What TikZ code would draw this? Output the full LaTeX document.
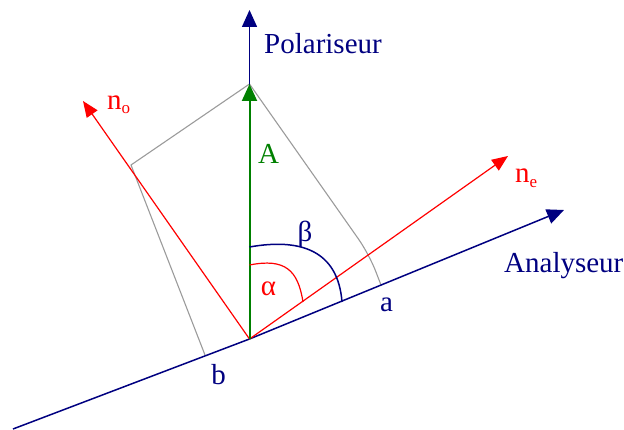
\documentclass[tikz,border=0pt]{standalone}
\usepackage{fontspec}
\setmainfont{Liberation Serif}
\newfontfamily\timesf{Liberation Serif}
\usetikzlibrary{arrows.meta}
\definecolor{navyc}{RGB}{0,0,128}
\definecolor{greenc}{RGB}{0,128,0}
\definecolor{grayc}{RGB}{155,155,155}
\tikzset{
  lbl/.style={inner sep=0pt, font=\timesf\fontsize{29}{31}\selectfont},
  axisline/.style={draw=navyc, line width=1.5pt, -{Triangle[length=17pt,width=15pt]}},
  redline/.style={draw=red, line width=1.2pt},
  redarrow/.style={redline, -{Triangle[length=16pt,width=13pt]}},
  greenarrow/.style={draw=greenc, line width=2pt, -{Triangle[length=17pt,width=15pt]}},
  proj/.style={draw=grayc, line width=1.1pt},
}
\newcommand{\subtxt}[1]{\raisebox{-0.14em}{\timesf\fontsize{17}{17}\selectfont #1}}
\begin{document}
\begin{tikzpicture}[x=1pt,y=-1pt]
\useasboundingbox (0,0) rectangle (624,430);
% points
\coordinate (O) at (249.5,339);
\coordinate (PolTip) at (249.5,10);
\coordinate (ATip) at (249.5,84);
\coordinate (NoTip) at (83,101);
\coordinate (NeTip) at (508,156);
\coordinate (AnStart) at (13,429);
\coordinate (AnTip) at (564,210);
\coordinate (Po) at (131,165);
\coordinate (Pe) at (369,254);
\coordinate (Fa) at (381,285);
\coordinate (Fb) at (205,355);
% projections
\draw[proj] (ATip) -- (Po) -- (Fb);
\draw[proj, rounded corners=18pt] (ATip) -- (Pe) -- (Fa);
% axes
\draw[axisline] (O) -- (PolTip);
\draw[draw=navyc, line width=1.5pt] (AnStart) -- (O);
\draw[axisline] (O) -- (AnTip);
% crystal axes
\draw[redarrow] (O) -- (NoTip);
\draw[redarrow] (O) -- (NeTip);
% amplitude
\draw[greenarrow] (O) -- (ATip);
% angles
\draw[red, line width=1.2pt] (249.5,265) .. controls (285,258) and (298,270) .. (303,302);
\draw[navyc, line width=1.5pt] (249.5,247) .. controls (300,238) and (338,250) .. (342,302);
% labels
\node[lbl, text=navyc, anchor=base west] (polarisor) at (264,54) {Polariseur};
\node[lbl, text=navyc, anchor=base west] (analyser) at (504,273) {Analyseur};
\node[lbl, text=greenc, anchor=base west] (alabel) at (258,164) {A};
\node[lbl, text=red, anchor=base west] (nolabel) at (107,109.5) {n\subtxt{o}};
\node[lbl, text=red, anchor=base west] (nelabel) at (515,183) {n\subtxt{e}};
\node[lbl, text=navyc] (alabelA) at (386.5,304.5) {a};
\node[lbl, text=navyc] (blabel) at (218.5,375) {b};
\node[lbl, text=red] (alpha) at (268.5,288.5) {α};
\node[lbl, text=navyc] (beta) at (305,234) {β};
\end{tikzpicture}
\end{document}
